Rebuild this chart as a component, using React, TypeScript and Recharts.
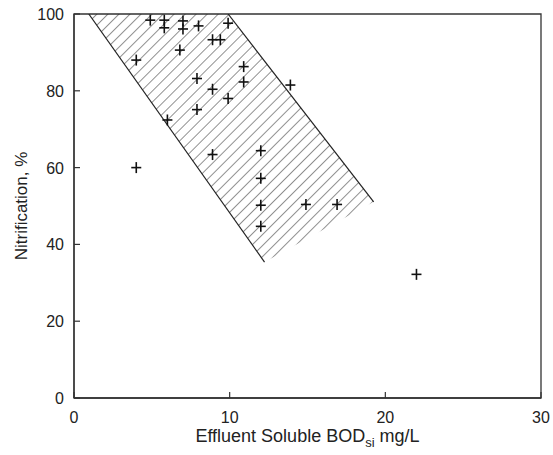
import { ScatterChart, Scatter, XAxis, YAxis, ReferenceArea } from 'recharts';

// measured points (effluent soluble BOD, nitrification %)
const BOD = [4.9, 5.8, 5.8, 7, 7, 8, 9.9, 8.9, 9.4, 6.8, 4, 10.9, 10.9, 7.9, 8.9, 13.9, 9.9, 7.9, 6, 8.9, 12, 12, 12, 12, 14.9, 16.9, 4, 22];
const NITRIF = [98.4, 98.4, 96.4, 98.2, 96.1, 96.9, 97.6, 93.3, 93.3, 90.6, 88, 86.3, 82.3, 83.2, 80.4, 81.5, 78, 75.1, 72.4, 63.4, 64.4, 57.2, 50.2, 44.7, 50.4, 50.4, 60, 32.2];

// hatched band corners: top-left, top-right, lower-right, bottom
const BAND_X = [0.95, 9.9, 19.25, 12.24];
const BAND_Y = [100, 100, 51.1, 35.4];

const X_TICKS = [0, 10, 20, 30];
const Y_TICKS = [0, 20, 40, 60, 80, 100];

const points = BOD.map((x, i) => ({ x, y: NITRIF[i] }));
const band = BAND_X.map((x, i) => ({ x, y: BAND_Y[i] }));

const FONT = '"Liberation Sans", Arial, sans-serif';
const INK = '#222';

const Cross = (p: any) => (
  <g stroke="#111" strokeWidth={1.6}>
    <line x1={p.cx - 5} x2={p.cx + 5} y1={p.cy} y2={p.cy} />
    <line x1={p.cx} x2={p.cx} y1={p.cy - 5.5} y2={p.cy + 5.5} />
  </g>
);

const Band = (p: any) => {
  const pts = p.points || [];
  if (pts.length < 4) return <g />;
  const poly = pts.map((q: any) => `${q.x},${q.y}`).join(' ');
  return (
    <g>
      <defs>
        <pattern id="hatch" patternUnits="userSpaceOnUse" width={7.8} height={7.8} patternTransform="rotate(45)">
          <line x1={0} y1={0} x2={0} y2={7.8} stroke="#222" strokeWidth={1} />
        </pattern>
      </defs>
      <polygon points={poly} fill="url(#hatch)" stroke="none" />
      <line x1={pts[0].x} y1={pts[0].y} x2={pts[3].x} y2={pts[3].y} stroke="#222" strokeWidth={1.2} />
      <line x1={pts[1].x} y1={pts[1].y} x2={pts[2].x} y2={pts[2].y} stroke="#222" strokeWidth={1.2} />
    </g>
  );
};

const YTick = ({ x, y, payload }: any) => (
  <g>
    <text x={x} y={y} dy={6} textAnchor="end" fontSize={16} fontFamily={FONT} fill={INK}>{payload.value}</text>
    <line x1={x + 10} x2={x + 16} y1={y} y2={y} stroke="#333" strokeWidth={1.2} />
  </g>
);

const XTick = ({ x, y, payload }: any) => (
  <g>
    <text x={x} y={y} dy={15} textAnchor="middle" fontSize={16} fontFamily={FONT} fill={INK}>{payload.value}</text>
    <line x1={x} x2={x} y1={y - 10} y2={y - 16} stroke="#333" strokeWidth={1.2} />
  </g>
);

const XTitle = ({ viewBox }: any) => (
  <text x={viewBox.x + viewBox.width / 2} y={viewBox.y + 44} textAnchor="middle" fontSize={18} fontFamily={FONT} fill={INK}>
    Effluent Soluble BOD<tspan fontSize={13} dy={5}>si</tspan><tspan dy={-5}> mg/L</tspan>
  </text>
);

const YTitle = ({ viewBox }: any) => {
  const cx = viewBox.x + 7;
  const cy = viewBox.y + viewBox.height / 2;
  return (
    <text x={cx} y={cy} transform={`rotate(-90 ${cx} ${cy})`} textAnchor="middle" dominantBaseline="central" fontSize={17} fontFamily={FONT} fill={INK}>
      Nitrification, %
    </text>
  );
};

export default function App() {
  return (
    <div style={{ position: 'absolute', left: 0, top: 0, background: '#fff' }}>
      <ScatterChart width={553} height={455} margin={{ top: 14, right: 12, bottom: 17, left: 14 }}>
        <XAxis type="number" dataKey="x" domain={[0, 30]} ticks={X_TICKS} height={40} tick={<XTick />} tickLine={false} tickSize={6} tickMargin={4} axisLine={{ stroke: '#333', strokeWidth: 1.3 }} label={<XTitle />} allowDataOverflow />
        <YAxis type="number" dataKey="y" domain={[0, 100]} ticks={Y_TICKS} width={60} tick={<YTick />} tickLine={false} tickSize={6} tickMargin={4} axisLine={{ stroke: '#333', strokeWidth: 1.3 }} label={<YTitle />} allowDataOverflow />
        <ReferenceArea x1={0} x2={30} y1={0} y2={100} fill="none" stroke="#333" strokeWidth={1.3} ifOverflow="visible" />
        <Scatter data={band} shape={() => <g />} line={Band} lineType="joint" isAnimationActive={false} />
        <Scatter data={points} shape={Cross} isAnimationActive={false} />
      </ScatterChart>
    </div>
  );
}
